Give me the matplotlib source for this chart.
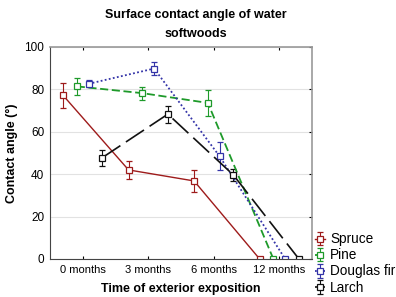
import numpy as np
import matplotlib
matplotlib.use('Agg')
import matplotlib.pyplot as plt

plt.rcParams['font.family'] = ['Liberation Sans', 'DejaVu Sans']

months = ['0 months', '3 months', '6 months', '12 months']
species = ['Spruce', 'Pine', 'Douglas fir', 'Larch']

spruce = [77.2, 42.0, 36.8, 0.0]
spruce_err = [6.0, 4.3, 5.3, 0.0]
pine = [81.4, 78.2, 73.6, 0.0]
pine_err = [4.0, 3.0, 6.0, 0.0]
douglas = [82.6, 89.8, 48.4, 0.0]
douglas_err = [1.6, 3.0, 6.6, 0.0]
larch = [47.8, 68.3, 39.6, 0.0]
larch_err = [3.8, 4.0, 3.0, 0.0]

offsets = [-0.3, -0.09, 0.09, 0.3]
colors = ['#9e1b1b', '#1e9a2a', '#3434a8', '#111111']
styles = ['-', (0, (4.5, 2)), (0, (1, 1.3)), (0, (13, 4))]

fig = plt.figure(figsize=(3.96, 2.97), dpi=100)
ax = fig.add_axes([0.126, 0.128, 0.662, 0.714])

x = np.arange(len(months))
series = [spruce, pine, douglas, larch]
errs = [spruce_err, pine_err, douglas_err, larch_err]
for name, vals, err, off, c, ls in zip(species, series, errs, offsets, colors, styles):
    lw = 1.2 if name == 'Larch' else 1.3
    if name == 'Spruce':
        lw = 1.0
    ax.errorbar(x + off, vals, yerr=err, color=c, ls=ls, lw=lw,
                marker='s', ms=5, mfc='white', mec=c, mew=0.9,
                elinewidth=0.8, capsize=2, capthick=0.8, label=name)

ax.set_xlim(-0.5, 3.5)
ax.set_ylim(0, 100)
ax.set_xticks(x)
ax.set_xticklabels(months, fontsize=8)
ax.set_yticks([0, 20, 40, 60, 80, 100])
ax.tick_params(axis='y', labelsize=8.5, length=0, pad=4)
ax.tick_params(axis='x', direction='in', length=2, top=True, pad=4)
ax.tick_params(axis='y', which='both', right=True, direction='in', length=2)
ax.tick_params(axis='y', left=False)
ax.yaxis.grid(True, color='#e2e2e2', lw=0.8)
ax.set_axisbelow(True)
for s in ['top', 'right']:
    ax.spines[s].set_color('#999999')
    ax.spines[s].set_linewidth(1.2)
for s in ['left', 'bottom']:
    ax.spines[s].set_color('#444444')

ax.set_xlabel('Time of exterior exposition', fontsize=9, fontweight='bold', labelpad=6)
ax.set_ylabel('Contact angle (°)', fontsize=9, fontweight='bold', labelpad=5)
fig.text(0.495, 0.865, 'Surface contact angle of water\nsoftwoods', ha='center',
         va='bottom', fontsize=9, fontweight='bold', linespacing=1.75)

fig.legend(loc='lower left', bbox_to_anchor=(0.782, -0.01), frameon=False,
           fontsize=9.8, handlelength=0.7, handletextpad=0.4, labelspacing=0.15,
           borderaxespad=0)

fig.savefig('out.png', dpi=100)
